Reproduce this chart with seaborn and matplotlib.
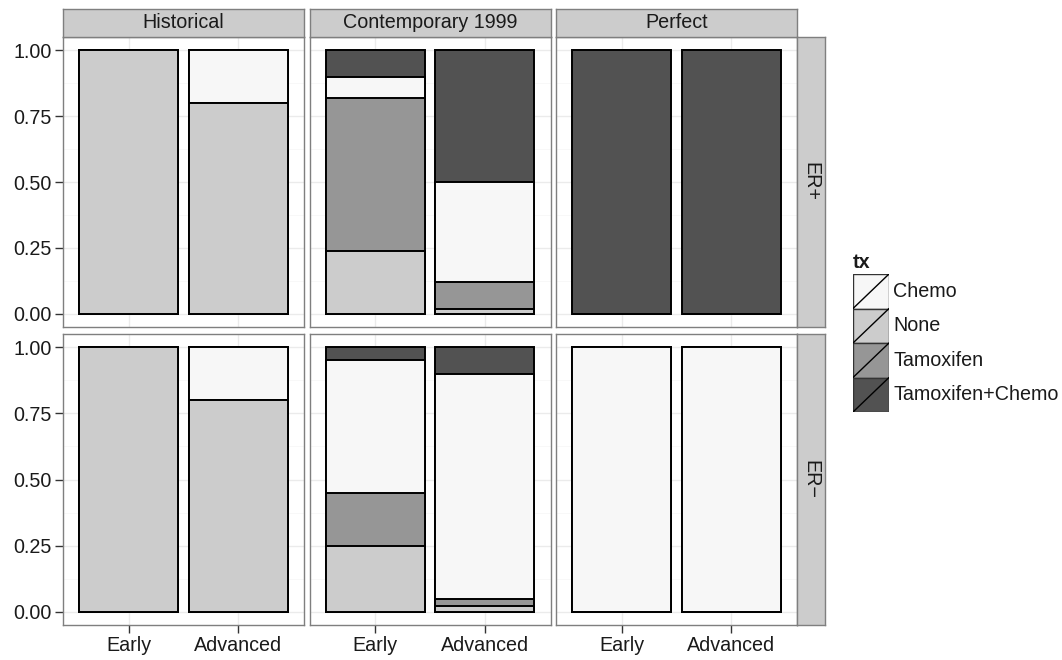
import numpy as np
import pandas as pd
import matplotlib
matplotlib.use("Agg")
import matplotlib.pyplot as plt
from matplotlib.patches import Rectangle
import seaborn as sns

sns.set_theme(style="white")
plt.rcParams['font.family'] = ['Liberation Sans', 'DejaVu Sans']

# facets and categories
eras = ["Historical", "Contemporary 1999", "Perfect"]
receptors = ["ER+", "ER\u2212"]
stages = ["Early", "Advanced"]
treatments = ["Chemo", "None", "Tamoxifen", "Tamoxifen+Chemo"]
stack_order = ["None", "Tamoxifen", "Chemo", "Tamoxifen+Chemo"]
tx_colors = {"Chemo": "#F7F7F7", "None": "#CCCCCC",
             "Tamoxifen": "#969696", "Tamoxifen+Chemo": "#525252"}

# proportions, order: ER+ (Hist E, Hist A, Cont E, Cont A, Perf E, Perf A), then ER- same
chemo     = [0.00, 0.20, 0.08, 0.38, 0.00, 0.00,   0.00, 0.20, 0.50, 0.85, 1.00, 1.00]
none      = [1.00, 0.80, 0.24, 0.02, 0.00, 0.00,   1.00, 0.80, 0.25, 0.02, 0.00, 0.00]
tamoxifen = [0.00, 0.00, 0.58, 0.10, 0.00, 0.00,   0.00, 0.00, 0.20, 0.03, 0.00, 0.00]
tam_chemo = [0.00, 0.00, 0.10, 0.50, 1.00, 1.00,   0.00, 0.00, 0.05, 0.10, 0.00, 0.00]

rows = []
vals = {"Chemo": chemo, "None": none, "Tamoxifen": tamoxifen, "Tamoxifen+Chemo": tam_chemo}
i = 0
for er in receptors:
    for era in eras:
        for st in stages:
            for tx in treatments:
                rows.append(dict(er=er, era=era, stage=st, tx=tx, value=vals[tx][i]))
            i += 1
df = pd.DataFrame(rows)
df["tx"] = pd.Categorical(df["tx"], stack_order, ordered=True)
df = df.sort_values(["er", "era", "stage", "tx"])
df["cum"] = df.groupby(["er", "era", "stage"], observed=True)["value"].cumsum()

W, H = 1062, 660
fig = plt.figure(figsize=(W / 100, H / 100), dpi=100)

def fa(x0, y0, x1, y1):
    return fig.add_axes([x0 / W, 1 - y1 / H, (x1 - x0) / W, (y1 - y0) / H])

col_x = [(63, 304), (309.5, 550.5), (556, 797)]
row_y = [(37, 327), (334, 625)]
border = "#7F7F7F"
fs = 14.2

for r, er in enumerate(receptors):
    for c, era in enumerate(eras):
        x0, x1 = col_x[c]
        y0, y1 = row_y[r]
        ax = fa(x0, y0, x1, y1)
        sub = df[(df.er == er) & (df.era == era)]
        for tx in reversed(stack_order):
            layer = sub[sub.tx == tx]
            sns.barplot(data=layer, x="stage", y="cum", order=stages, color=tx_colors[tx],
                        saturation=1, width=0.9, edgecolor="black", linewidth=1.4,
                        errorbar=None, ax=ax)
        ax.set_xlim(-0.6, 1.6)
        ax.set_ylim(-0.05, 1.05)
        ax.set_yticks([0, 0.25, 0.5, 0.75, 1.0])
        ax.set_yticks([0.125, 0.375, 0.625, 0.875], minor=True)
        ax.set_yticklabels(["0.00", "0.25", "0.50", "0.75", "1.00"])
        ax.grid(True, which="major", color="#EBEBEB", lw=1.0)
        ax.grid(True, which="minor", axis="y", color="#F7F7F7", lw=0.6)
        ax.set_axisbelow(True)
        ax.set_xlabel("")
        ax.set_ylabel("")
        for s in ax.spines.values():
            s.set_color(border)
            s.set_linewidth(1.0)
        ax.tick_params(axis="both", which="major", direction="out", length=5.5, width=1.0,
                       color="#333333", labelsize=fs, labelcolor="#1a1a1a", pad=2.5)
        ax.tick_params(which="minor", length=0)
        ax.tick_params(left=(c == 0), labelleft=(c == 0),
                       bottom=(r == 1), labelbottom=(r == 1))

        # column strips
        if r == 0:
            sa = fa(x0, 9, x1, 37)
            sa.set_facecolor("#CCCCCC")
            sa.set_xticks([]); sa.set_yticks([])
            for s in sa.spines.values():
                s.set_color(border); s.set_linewidth(1.0)
            sa.text(0.5, 0.5, era, ha="center", va="center", fontsize=fs, color="#1a1a1a",
                    transform=sa.transAxes)
    # row strips
    y0, y1 = row_y[r]
    sa = fa(797, y0, 825, y1)
    sa.set_facecolor("#CCCCCC")
    sa.set_xticks([]); sa.set_yticks([])
    for s in sa.spines.values():
        s.set_color(border); s.set_linewidth(1.0)
    sa.text(0.5, 0.5, er, ha="center", va="center", rotation=270, fontsize=fs,
            color="#1a1a1a", transform=sa.transAxes)

# legend
la = fa(853, 274, 889, 412)
la.set_xlim(0, 1)
la.set_ylim(4, 0)
la.axis("off")
for k, tx in enumerate(treatments):
    la.add_patch(Rectangle((0, k), 1, 1, facecolor=tx_colors[tx], edgecolor="#333333", lw=1.0))
    la.plot([0, 1], [k + 1, k], color="black", lw=1.0)
    fig.text(893 / W, 1 - (274 + 34.5 * (k + 0.5)) / H, tx, ha="left", va="center",
             fontsize=fs, color="#1a1a1a")
fig.text(853 / W, 1 - 262 / H, "tx", ha="left", va="center", fontsize=fs,
         fontweight="bold", color="#1a1a1a")

fig.savefig("out.png", dpi=100)
